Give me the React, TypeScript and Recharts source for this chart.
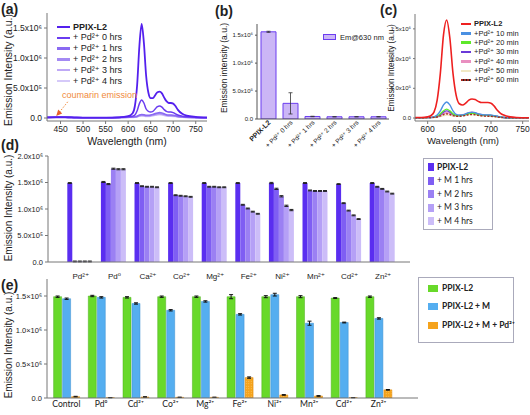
import React from 'react';
import { LineChart, Line, BarChart, Bar, XAxis, YAxis, ErrorBar, ReferenceLine, ReferenceDot } from 'recharts';

const FONT = '"Liberation Sans", Arial, "DejaVu Sans", sans-serif';
const FONT2 = 'Lato, "Liberation Sans", "DejaVu Sans", sans-serif';

// ---------- panel (a): spectra vs. time with Pd2+ (values x10^6) ----------
const aWavelength = [420, 440, 450, 460, 480, 500, 550, 580, 600, 610, 615, 620, 625, 630, 635, 640, 645, 650, 655, 660, 665, 670, 675, 680, 685, 690, 695, 700, 705, 710, 720, 730, 750, 775];
const aNames = ['PPIX-L2', '+ Pd²⁺ 0 hrs', '+ Pd²⁺ 1 hrs', '+ Pd²⁺ 2 hrs', '+ Pd²⁺ 3 hrs', '+ Pd²⁺ 4 hrs'];
const aPPIX = [0.01, 0.01, 0.012, 0.01, 0.006, 0.005, 0.005, 0.01, 0.03, 0.08, 0.2, 0.55, 1.2, 1.57, 1.25, 0.7, 0.42, 0.33, 0.33, 0.38, 0.43, 0.44, 0.41, 0.34, 0.28, 0.25, 0.25, 0.24, 0.2, 0.14, 0.07, 0.04, 0.02, 0.01];
const aPd0h = [0.01, 0.015, 0.02, 0.015, 0.01, 0.006, 0.005, 0.01, 0.02, 0.03, 0.05, 0.12, 0.24, 0.3, 0.25, 0.15, 0.11, 0.1, 0.11, 0.15, 0.19, 0.2, 0.18, 0.14, 0.11, 0.1, 0.1, 0.09, 0.07, 0.05, 0.03, 0.02, 0.01, 0.005];
const aPd1h = [0.01, 0.015, 0.02, 0.015, 0.01, 0.006, 0.005, 0.008, 0.012, 0.015, 0.02, 0.03, 0.05, 0.06, 0.055, 0.045, 0.045, 0.05, 0.06, 0.075, 0.085, 0.09, 0.085, 0.07, 0.055, 0.05, 0.048, 0.045, 0.04, 0.03, 0.02, 0.012, 0.008, 0.005];
const aPd2h = [0.01, 0.014, 0.018, 0.014, 0.01, 0.006, 0.005, 0.008, 0.011, 0.013, 0.018, 0.026, 0.042, 0.05, 0.046, 0.038, 0.038, 0.043, 0.052, 0.064, 0.073, 0.077, 0.072, 0.06, 0.048, 0.043, 0.041, 0.039, 0.034, 0.026, 0.017, 0.011, 0.007, 0.005];
const aPd3h = [0.01, 0.013, 0.017, 0.013, 0.009, 0.006, 0.005, 0.007, 0.01, 0.012, 0.015, 0.022, 0.035, 0.042, 0.039, 0.032, 0.032, 0.036, 0.044, 0.054, 0.062, 0.065, 0.061, 0.051, 0.041, 0.037, 0.035, 0.033, 0.029, 0.022, 0.015, 0.01, 0.006, 0.004];
const aPd4h = [0.009, 0.012, 0.015, 0.012, 0.008, 0.005, 0.004, 0.006, 0.009, 0.01, 0.013, 0.018, 0.028, 0.034, 0.032, 0.027, 0.027, 0.03, 0.036, 0.044, 0.05, 0.053, 0.05, 0.042, 0.034, 0.03, 0.029, 0.027, 0.024, 0.018, 0.012, 0.008, 0.005, 0.004];
const aXTicks = [450, 500, 550, 600, 650, 700, 750];
const aYTicks = [0, 0.5, 1.0, 1.5];
const aColors = ['#5420ee', '#6a3cf0', '#8a6af2', '#a48af3', '#bfa9f6', '#d5c9f9'];

// ---------- panel (b): Em@630 nm ----------
const bLabels = ['PPIX-L2', '+ Pd²⁺ 0 hrs', '+ Pd²⁺ 1 hrs', '+ Pd²⁺ 2 hrs', '+ Pd²⁺ 3 hrs', '+ Pd²⁺ 4 hrs'];
const bValues = [1.56, 0.28, 0.045, 0.04, 0.04, 0.04];
const bErrors = [0.01, 0.19, 0.004, 0.003, 0.003, 0.003];
const bYTicks = [0, 0.5, 1.0, 1.5];

// ---------- panel (c): spectra vs. minutes ----------
const cWavelength = [580, 590, 600, 605, 610, 615, 620, 625, 630, 635, 640, 645, 650, 655, 660, 665, 670, 675, 680, 685, 690, 695, 700, 705, 710, 715, 720, 730, 740, 760];
const cNames = ['PPIX-L2', '+Pd²⁺ 10 min', '+Pd²⁺ 20 min', '+Pd²⁺ 30 min', '+Pd²⁺ 40 min', '+Pd²⁺ 50 min', '+Pd²⁺ 60 min'];
const cPPIX = [0.01, 0.01, 0.02, 0.04, 0.1, 0.3, 0.75, 1.4, 1.65, 1.35, 0.75, 0.38, 0.24, 0.22, 0.25, 0.3, 0.32, 0.31, 0.28, 0.26, 0.26, 0.26, 0.25, 0.2, 0.13, 0.08, 0.05, 0.02, 0.01, 0.005];
const c10 = [0.005, 0.005, 0.01, 0.01, 0.02, 0.05, 0.12, 0.22, 0.27, 0.22, 0.12, 0.06, 0.05, 0.05, 0.07, 0.09, 0.1, 0.09, 0.07, 0.06, 0.05, 0.05, 0.05, 0.04, 0.03, 0.02, 0.01, 0.005, 0.005, 0.002];
const c20 = [0.005, 0.005, 0.008, 0.01, 0.015, 0.03, 0.07, 0.12, 0.15, 0.12, 0.07, 0.045, 0.04, 0.045, 0.06, 0.075, 0.08, 0.075, 0.06, 0.05, 0.045, 0.045, 0.04, 0.035, 0.025, 0.015, 0.01, 0.005, 0.004, 0.002];
const c30 = [0.005, 0.005, 0.008, 0.01, 0.013, 0.025, 0.055, 0.1, 0.12, 0.1, 0.06, 0.04, 0.04, 0.045, 0.06, 0.08, 0.09, 0.08, 0.065, 0.05, 0.045, 0.045, 0.04, 0.035, 0.025, 0.015, 0.01, 0.005, 0.004, 0.002];
const c40 = [0.005, 0.005, 0.007, 0.009, 0.012, 0.02, 0.045, 0.075, 0.09, 0.08, 0.055, 0.04, 0.045, 0.055, 0.07, 0.09, 0.1, 0.09, 0.07, 0.055, 0.05, 0.048, 0.045, 0.038, 0.028, 0.018, 0.01, 0.005, 0.004, 0.002];
const c50 = [0.004, 0.004, 0.006, 0.007, 0.009, 0.014, 0.025, 0.04, 0.05, 0.045, 0.035, 0.03, 0.032, 0.04, 0.05, 0.058, 0.06, 0.055, 0.045, 0.037, 0.033, 0.032, 0.03, 0.025, 0.018, 0.012, 0.008, 0.004, 0.003, 0.002];
const c60 = [0.004, 0.004, 0.007, 0.008, 0.011, 0.018, 0.035, 0.058, 0.07, 0.06, 0.04, 0.03, 0.03, 0.035, 0.045, 0.055, 0.06, 0.055, 0.045, 0.036, 0.032, 0.03, 0.028, 0.024, 0.017, 0.011, 0.007, 0.004, 0.003, 0.002];
const cXTicks = [600, 650, 700, 750];
const cYTicks = [0, 0.5, 1.0, 1.5];
const cColors = ['#ee2020', '#4a90e2', '#5ee82a', '#6a3ad8', '#e98fc0', '#f1e9c4', '#a82a20'];

// ---------- panel (d): metal ions over hours ----------
const dIons = ['Pd²⁺', 'Pd⁰', 'Ca²⁺', 'Co²⁺', 'Mg²⁺', 'Fe²⁺', 'Ni²⁺', 'Mn²⁺', 'Cd²⁺', 'Zn²⁺'];
const dNames = ['PPIX-L2', '+ M 1 hrs', '+ M 2 hrs', '+ M 3 hrs', '+ M 4 hrs'];
const dPPIX = [1.49, 1.51, 1.49, 1.49, 1.49, 1.49, 1.49, 1.49, 1.47, 1.49];
const dM1 = [0.01, 1.47, 1.43, 1.26, 1.42, 1.08, 1.38, 1.35, 1.11, 1.42];
const dM2 = [0.01, 1.76, 1.42, 1.25, 1.42, 1.01, 1.24, 1.34, 0.97, 1.38];
const dM3 = [0.01, 1.75, 1.42, 1.24, 1.41, 0.95, 1.06, 1.34, 0.88, 1.33];
const dM4 = [0.01, 1.75, 1.41, 1.23, 1.41, 0.91, 0.98, 1.34, 0.81, 1.29];
const dErr = [0.008, 0.01, 0.008, 0.008, 0.008, 0.008, 0.012, 0.008, 0.008, 0.008];
const dYTicks = [0, 0.5, 1.0, 1.5, 2.0];
const dColors = ['#5a2ef0', '#7f5ef3', '#9b80f3', '#b5a0f6', '#ccbdf8'];

// ---------- panel (e): competition ----------
const eIons = ['Control', 'Pd⁰', 'Cd²⁺', 'Co²⁺', 'Mg²⁺', 'Fe²⁺', 'Ni²⁺', 'Mn²⁺', 'Cd²⁺', 'Zn²⁺'];
const eNames = ['PPIX-L2', 'PPIX-L2 + M', 'PPIX-L2 + M + Pd²⁺'];
const eL2 = [1.49, 1.50, 1.48, 1.49, 1.49, 1.49, 1.49, 1.49, 1.47, 1.49];
const eL2M = [1.46, 1.48, 1.39, 1.29, 1.42, 1.23, 1.52, 1.10, 1.11, 1.17];
const eL2MPd = [0.02, 0.005, 0.015, 0.01, 0.01, 0.30, 0.045, 0.03, 0.005, 0.12];
const eL2Err = [0.01, 0.01, 0.01, 0.01, 0.01, 0.03, 0.015, 0.015, 0.006, 0.01];
const eL2MErr = [0.01, 0.01, 0.01, 0.01, 0.01, 0.01, 0.02, 0.03, 0.006, 0.01];
const eL2MPdErr = [0.005, 0.002, 0.003, 0.002, 0.002, 0.01, 0.005, 0.005, 0.002, 0.005];
const eYTicks = [0, 0.5, 1.0, 1.5];
const eColors = ['#68d92a', '#55aef0', '#f5a31c'];

const aData = aWavelength.map((w, i) => ({ w, s0: aPPIX[i], s1: aPd0h[i], s2: aPd1h[i], s3: aPd2h[i], s4: aPd3h[i], s5: aPd4h[i] }));
const bData = bLabels.map((name, i) => ({ name, v: bValues[i], err: bErrors[i] }));
const cData = cWavelength.map((w, i) => ({ w, s0: cPPIX[i], s1: c10[i], s2: c20[i], s3: c30[i], s4: c40[i], s5: c50[i], s6: c60[i] }));
const dData = dIons.map((ion, i) => ({ ion, s0: dPPIX[i], s1: dM1[i], s2: dM2[i], s3: dM3[i], s4: dM4[i], err: dErr[i] }));
const eData = eIons.map((ion, i) => ({ ion, s0: eL2[i], s1: eL2M[i], s2: eL2MPd[i], e0: eL2Err[i], e1: eL2MErr[i], e2: eL2MPdErr[i] }));

const sciX = (v: number) => (v === 0 ? '0.0' : v < 1 ? `${(v * 10).toFixed(1)}x10⁵` : `${v.toFixed(1)}x10⁶`);
const sciE = (v: number) => (v === 0 ? '0.0' : `${v.toFixed(1)}×10⁶`);

const Abs = ({ x, y, children, style }: any) => (
  <div style={{ position: 'absolute', left: x, top: y, whiteSpace: 'nowrap', lineHeight: 1, ...style }}>{children}</div>
);
const VLabel = ({ cx, cy, size, text, font }: any) => (
  <div style={{ position: 'absolute', left: cx, top: cy, transform: 'translate(-50%,-50%) rotate(-90deg)', whiteSpace: 'nowrap', fontSize: size, lineHeight: 1, fontFamily: font || FONT, color: '#222' }}>{text}</div>
);

const BTick = (props: any) => {
  const { x, y, payload, index } = props;
  const tx = x + 3;
  const ty = y + 4;
  return (
    <text x={tx} y={ty} transform={`rotate(-45 ${tx} ${ty})`} textAnchor="end" fontSize={index === 0 ? 7 : 6.5} fontWeight={index === 0 ? 'bold' : 'normal'} fill="#222" fontFamily={FONT}>
      {payload.value}
    </text>
  );
};

const axisGray = '#777';

export default function App() {
  return (
    <div style={{ position: 'absolute', left: 0, top: 0, width: 530, height: 415, background: '#fff', fontFamily: FONT, color: '#222', overflow: 'hidden' }}>
      {/* (a) */}
      <div style={{ position: 'absolute', left: 0, top: 0 }}>
        <LineChart width={215} height={150} data={aData} margin={{ top: 13, right: 8, left: 0, bottom: 0 }}>
          <XAxis dataKey="w" type="number" domain={[420, 775]} ticks={aXTicks} allowDataOverflow height={29} tickSize={3} tick={{ fontSize: 8.5, fill: '#222', fontFamily: FONT }} stroke={axisGray} />
          <XAxis xAxisId="top" orientation="top" dataKey="w" type="number" domain={[420, 775]} allowDataOverflow height={0} tick={false} tickLine={false} stroke={axisGray} />
          <YAxis type="number" domain={[-0.05, 1.75]} ticks={aYTicks} allowDataOverflow width={47} tickSize={3} tickFormatter={sciX} tick={{ fontSize: 8.5, fill: '#222', fontFamily: FONT }} stroke={axisGray} />
          <YAxis yAxisId="right" orientation="right" type="number" domain={[-0.05, 1.75]} allowDataOverflow width={0} tick={false} tickLine={false} stroke={axisGray} />
          {[5, 4, 3, 2, 1, 0].map((k) => (
            <Line key={k} dataKey={`s${k}`} type="monotone" dot={false} stroke={aColors[k]} strokeWidth={k === 0 ? 1.8 : 1.5} isAnimationActive={false} />
          ))}
          <ReferenceLine segment={[{ x: 466, y: 0.27 }, { x: 448, y: 0.1 }]} stroke="#f08a3c" strokeDasharray="1.5 1.5" strokeWidth={1} ifOverflow="visible" />
          <ReferenceDot x={446} y={0.085} r={3} ifOverflow="visible" shape={(p: any) => (
            <polygon points={`${p.cx - 2.5},${p.cy + 3} ${p.cx + 3.5},${p.cy + 0.5} ${p.cx - 0.5},${p.cy - 3.5}`} fill="#e8602c" />
          )} />
        </LineChart>
      </div>
      <Abs x={62} y={91} style={{ fontSize: 9, color: '#f08a3c' }}>coumarin emission</Abs>
      {aNames.map((n, i) => (
        <div key={n} style={{ position: 'absolute', left: 57, top: 27 + i * 10.8 - 5, height: 10, display: 'flex', alignItems: 'center', whiteSpace: 'nowrap' }}>
          <div style={{ width: 13, height: 2.5, background: aColors[i], marginRight: 3 }} />
          <span style={{ fontSize: 9, fontWeight: i === 0 ? 'bold' : 'normal', lineHeight: 1 }}>{n}</span>
        </div>
      ))}
      <VLabel cx={8} cy={70} size={10.5} text="Emission Intensity (a.u.)" />
      <Abs x={127} y={141} style={{ fontSize: 10.5, transform: 'translate(-50%,-50%)' }}>Wavelength (nm)</Abs>
      <Abs x={1} y={2} style={{ fontSize: 14, fontWeight: 'bold' }}>(a)</Abs>

      {/* (b) */}
      <div style={{ position: 'absolute', left: 200, top: 0 }}>
        <BarChart width={200} height={165} data={bData} margin={{ top: 24, right: 11, left: 0, bottom: 0 }}>
          <XAxis dataKey="name" height={46} tickLine={false} tickSize={0} tickMargin={0} interval={0} tick={<BTick />} stroke="#555" />
          <YAxis type="number" domain={[0, 1.7]} ticks={bYTicks} allowDataOverflow width={57} tickSize={2} tickFormatter={sciX} tick={{ fontSize: 6, fill: '#222', fontFamily: FONT }} stroke="#555" />
          <Bar dataKey="v" barSize={15} fill="#cbb6f6" stroke="#6b3df0" strokeWidth={1} isAnimationActive={false}>
            <ErrorBar dataKey="err" width={2} stroke="#333" strokeWidth={0.8} />
          </Bar>
        </BarChart>
      </div>
      <div style={{ position: 'absolute', left: 323, top: 34, width: 13, height: 6, background: '#cbb6f6', border: '1px solid #6b3df0', boxSizing: 'border-box' }} />
      <Abs x={340} y={33.5} style={{ fontSize: 7.5 }}>Em@630 nm</Abs>
      <VLabel cx={224} cy={68} size={8.5} text="Emission intensity (a.u.)" />
      <Abs x={215} y={4} style={{ fontSize: 14, fontWeight: 'bold' }}>(b)</Abs>

      {/* (c) */}
      <div style={{ position: 'absolute', left: 355, top: 0 }}>
        <LineChart width={175} height={150} data={cData} margin={{ top: 14, right: 1, left: 0, bottom: 0 }}>
          <XAxis dataKey="w" type="number" domain={[580, 760]} ticks={cXTicks} allowDataOverflow height={29} tickSize={3} tick={{ fontSize: 8.5, fill: '#222', fontFamily: FONT }} stroke={axisGray} />
          <XAxis xAxisId="top" orientation="top" dataKey="w" type="number" domain={[580, 760]} allowDataOverflow height={0} tick={false} tickLine={false} stroke={axisGray} />
          <YAxis type="number" domain={[-0.05, 1.75]} ticks={cYTicks} allowDataOverflow width={60} tickSize={2} tickFormatter={sciX} tick={{ fontSize: 6, fill: '#222', fontFamily: FONT }} stroke={axisGray} />
          <YAxis yAxisId="right" orientation="right" type="number" domain={[-0.05, 1.75]} allowDataOverflow width={0} tick={false} tickLine={false} stroke={axisGray} />
          {[5, 4, 3, 2, 1, 6, 0].map((k) => (
            <Line key={k} dataKey={`s${k}`} type="monotone" dot={false} stroke={cColors[k]} strokeWidth={k === 0 ? 1.6 : 1.4} strokeDasharray={k === 6 ? '2 1.5' : undefined} isAnimationActive={false} />
          ))}
        </LineChart>
      </div>
      {cNames.map((n, i) => (
        <div key={n} style={{ position: 'absolute', left: 461, top: 24 + i * 9.35 - 4.5, height: 9, display: 'flex', alignItems: 'center', whiteSpace: 'nowrap' }}>
          <div style={{ width: 10, height: 2.5, background: cColors[i], marginRight: 3, ...(i === 6 ? { background: 'repeating-linear-gradient(90deg,#a82a20 0 2px,#222 2px 3px)' } : {}) }} />
          <span style={{ fontSize: 7.5, fontWeight: i === 0 ? 'bold' : 'normal', lineHeight: 1 }}>{n}</span>
        </div>
      ))}
      <VLabel cx={392} cy={68} size={8.2} text="Emission Intensity (a.u.)" />
      <Abs x={463} y={141} style={{ fontSize: 9.5, transform: 'translate(-50%,-50%)' }}>Wavelength (nm)</Abs>
      <Abs x={380} y={3} style={{ fontSize: 14, fontWeight: 'bold' }}>(c)</Abs>

      {/* (d) */}
      <div style={{ position: 'absolute', left: 0, top: 140 }}>
        <BarChart width={420} height={145} data={dData} margin={{ top: 16, right: 10, left: 0, bottom: 0 }} barCategoryGap={3.3} barGap={0}>
          <XAxis dataKey="ion" height={23} tickLine={false} tickMargin={5} interval={0} padding={{ left: 16, right: 10 }} tick={{ fontSize: 8, fill: '#222', fontFamily: FONT }} stroke={axisGray} />
          <YAxis type="number" domain={[0, 2]} ticks={dYTicks} allowDataOverflow width={48} tickSize={3} tickFormatter={sciX} tick={{ fontSize: 7.5, fill: '#222', fontFamily: FONT }} stroke={axisGray} />
          {[0, 1, 2, 3, 4].map((k) => (
            <Bar key={k} dataKey={`s${k}`} fill={dColors[k]} isAnimationActive={false}>
              <ErrorBar dataKey="err" width={2} stroke="#222" strokeWidth={1} />
            </Bar>
          ))}
        </BarChart>
      </div>
      <div style={{ position: 'absolute', left: 423, top: 158, width: 70, height: 72, border: '1px solid #aab', boxSizing: 'border-box' }} />
      {dNames.map((n, i) => (
        <div key={n} style={{ position: 'absolute', left: 428, top: 167.3 + i * 13.4 - 5, height: 10, display: 'flex', alignItems: 'center', whiteSpace: 'nowrap' }}>
          <div style={{ width: 6, height: 8, background: dColors[i], marginRight: 3 }} />
          <span style={{ fontSize: 8.5, fontWeight: i === 0 ? 'bold' : 'normal', lineHeight: 1, fontFamily: FONT2 }}>{n}</span>
        </div>
      ))}
      <VLabel cx={9} cy={208} size={10} text="Emission Intensity (a.u.)" />
      <Abs x={1} y={138} style={{ fontSize: 14, fontWeight: 'bold' }}>(d)</Abs>

      {/* (e) */}
      <div style={{ position: 'absolute', left: 0, top: 270 }}>
        <BarChart width={420} height={144} data={eData} margin={{ top: 9, right: 2, left: 0, bottom: 0 }} barCategoryGap={4.6} barGap={1}>
          <defs>
            <pattern id="dotsOrange" width="2.5" height="2.5" patternUnits="userSpaceOnUse">
              <rect width="2.5" height="2.5" fill="#f5a31c" />
              <circle cx="1.25" cy="1.25" r="0.5" fill="#fbd27e" />
            </pattern>
          </defs>
          <XAxis dataKey="ion" height={16} tickLine={false} tickSize={0} tickMargin={3} interval={0} padding={{ left: 2, right: 22 }} tick={{ fontSize: 8.6, fill: '#222', fontFamily: FONT2 }} stroke={axisGray} />
          <YAxis type="number" domain={[0, 1.75]} ticks={eYTicks} allowDataOverflow width={47} tickSize={3} tickFormatter={sciE} tick={{ fontSize: 7.5, fill: '#222', fontFamily: FONT }} stroke={axisGray} />
          <Bar dataKey="s0" fill={eColors[0]} stroke="#4fae1e" strokeWidth={0.5} isAnimationActive={false}>
            <ErrorBar dataKey="e0" width={2} stroke="#111" strokeWidth={1} />
          </Bar>
          <Bar dataKey="s1" fill={eColors[1]} stroke="#3a8fd0" strokeWidth={0.5} isAnimationActive={false}>
            <ErrorBar dataKey="e1" width={2} stroke="#111" strokeWidth={1} />
          </Bar>
          <Bar dataKey="s2" fill="url(#dotsOrange)" stroke="#e08a10" strokeWidth={0.5} isAnimationActive={false}>
            <ErrorBar dataKey="e2" width={2} stroke="#111" strokeWidth={1} />
          </Bar>
        </BarChart>
      </div>
      <div style={{ position: 'absolute', left: 418, top: 277, width: 96, height: 66, border: '1px solid #aab', boxSizing: 'border-box' }} />
      {eNames.map((n, i) => (
        <div key={n} style={{ position: 'absolute', left: 428, top: [288, 306, 325][i] - 5, height: 10, display: 'flex', alignItems: 'center', whiteSpace: 'nowrap' }}>
          <div style={{ width: 10, height: 7, background: eColors[i], marginRight: 4 }} />
          <span style={{ fontSize: 8.5, fontWeight: 'bold', lineHeight: 1, fontFamily: FONT2 }}>{n}</span>
        </div>
      ))}
      <VLabel cx={9} cy={345} size={10} text="Emission Intensity (a.u.)" />
      <Abs x={1} y={278} style={{ fontSize: 14, fontWeight: 'bold' }}>(e)</Abs>
    </div>
  );
}
